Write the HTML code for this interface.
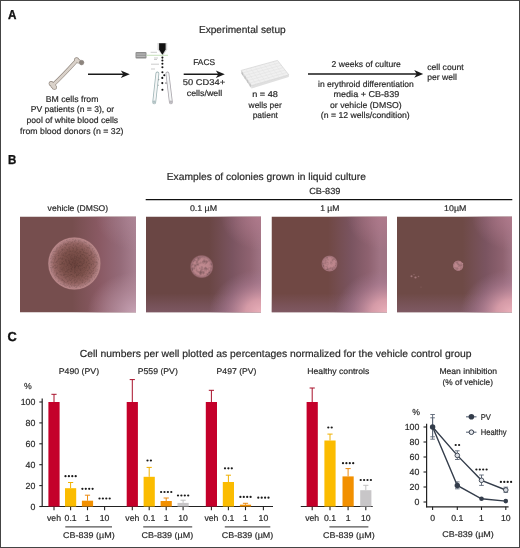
<!DOCTYPE html>
<html><head><meta charset="utf-8"><style>
html,body{margin:0;padding:0;background:#fff;}
body{width:520px;height:548px;overflow:hidden;}
svg{display:block;will-change:transform;text-rendering:geometricPrecision;font-family:"Liberation Sans",sans-serif;}
</style></head><body>
<svg width="520" height="548" viewBox="0 0 520 548">
<defs><clipPath id="clip0"><rect x="20" y="216.5" width="116" height="96"/></clipPath><clipPath id="clip1"><rect x="146" y="216.5" width="115" height="96"/></clipPath><clipPath id="clip2"><rect x="271.5" y="216.5" width="115.5" height="96"/></clipPath><clipPath id="clip3"><rect x="397" y="216.5" width="115" height="96"/></clipPath><linearGradient id="h0" x1="0" y1="0" x2="1" y2="0"><stop offset="0.45" stop-color="#8a5a64" stop-opacity="0"/><stop offset="0.69" stop-color="#8a5a64" stop-opacity="1"/><stop offset="0.86" stop-color="#946a78"/><stop offset="1" stop-color="#a88090"/></linearGradient><radialGradient id="br0" cx="1" cy="1" r="0.42"><stop offset="0" stop-color="#c8a4b6" stop-opacity="0.95"/><stop offset="0.6" stop-color="#b890a0" stop-opacity="0.5"/><stop offset="1" stop-color="#b890a0" stop-opacity="0"/></radialGradient><radialGradient id="tr0" cx="1" cy="0" r="0.35"><stop offset="0" stop-color="#b08898" stop-opacity="0.6"/><stop offset="1" stop-color="#b08898" stop-opacity="0"/></radialGradient><linearGradient id="h1" x1="0" y1="0" x2="1" y2="0"><stop offset="0.550" stop-color="#7a5460" stop-opacity="0"/><stop offset="0.750" stop-color="#7a5460" stop-opacity="1"/><stop offset="0.900" stop-color="#8e6270"/><stop offset="1.000" stop-color="#a07484"/></linearGradient><linearGradient id="h2" x1="0" y1="0" x2="1" y2="0"><stop offset="0.490" stop-color="#7a5460" stop-opacity="0"/><stop offset="0.690" stop-color="#7a5460" stop-opacity="1"/><stop offset="0.840" stop-color="#8e6270"/><stop offset="0.940" stop-color="#a07484"/></linearGradient><linearGradient id="h3" x1="0" y1="0" x2="1" y2="0"><stop offset="0.570" stop-color="#7a5460" stop-opacity="0"/><stop offset="0.770" stop-color="#7a5460" stop-opacity="1"/><stop offset="0.920" stop-color="#8e6270"/><stop offset="1.000" stop-color="#a07484"/></linearGradient><linearGradient id="b1" x1="0" y1="0" x2="0" y2="1"><stop offset="0.8" stop-color="#8a6478" stop-opacity="0"/><stop offset="1" stop-color="#8a6478" stop-opacity="0.6"/></linearGradient><radialGradient id="br1" cx="1" cy="1" r="0.45"><stop offset="0" stop-color="#eab0ba" stop-opacity="1"/><stop offset="0.3" stop-color="#dca0ac" stop-opacity="0.9"/><stop offset="0.7" stop-color="#b08098" stop-opacity="0.45"/><stop offset="1" stop-color="#a07890" stop-opacity="0"/></radialGradient><radialGradient id="tr1" cx="1" cy="0" r="0.35"><stop offset="0" stop-color="#b07a8c" stop-opacity="0.9"/><stop offset="1" stop-color="#b07a8c" stop-opacity="0"/></radialGradient><linearGradient id="bot" x1="0" y1="0" x2="0" y2="1"><stop offset="0.85" stop-color="#8a6078" stop-opacity="0"/><stop offset="1" stop-color="#8a6078" stop-opacity="0.45"/></linearGradient><radialGradient id="colv"><stop offset="0" stop-color="#6a423c"/><stop offset="0.5" stop-color="#7e524c"/><stop offset="0.78" stop-color="#966664"/><stop offset="0.92" stop-color="#b28284"/><stop offset="0.97" stop-color="#b88688"/><stop offset="1" stop-color="#a07476"/></radialGradient><radialGradient id="cols"><stop offset="0" stop-color="#c08a90"/><stop offset="0.7" stop-color="#ba848a"/><stop offset="0.88" stop-color="#a87880" stop-opacity="0.85"/><stop offset="1" stop-color="#905a60" stop-opacity="0"/></radialGradient><filter id="speck2" x="0" y="0" width="100%" height="100%"><feTurbulence type="fractalNoise" baseFrequency="0.28" numOctaves="2" seed="11"/><feColorMatrix type="matrix" values="0 0 0 0 0  0 0 0 0 0  0 0 0 0 0  0 0 0 -2.2 1.3"/><feGaussianBlur stdDeviation="0.6"/><feComposite in2="SourceGraphic" operator="in"/></filter><filter id="speck" x="0" y="0" width="100%" height="100%"><feTurbulence type="fractalNoise" baseFrequency="0.55" numOctaves="2" seed="5"/><feColorMatrix type="matrix" values="0 0 0 0 0  0 0 0 0 0  0 0 0 0 0  0 0 0 -2.5 1.45"/><feGaussianBlur stdDeviation="0.5"/><feComposite in2="SourceGraphic" operator="in"/></filter></defs>
<text x="8.10" y="18.7" font-size="13" font-weight="bold" fill="#111" stroke="#111" stroke-width="0.35" textLength="8.43" lengthAdjust="spacingAndGlyphs">A</text>
<text x="198.90" y="32.7" font-size="10.2" font-weight="normal" fill="#2a2a2a" stroke="#2a2a2a" stroke-width="0.2" textLength="86.80" lengthAdjust="spacingAndGlyphs">Experimental setup</text>
<path d="M53.8,84.2 Q63,75.5 75.5,61.8" fill="none" stroke="#8e847c" stroke-width="3.9000000000000004" stroke-linecap="round"/><circle cx="51.2" cy="83.6" r="2.5" fill="#8e847c"/><circle cx="54.4" cy="87.2" r="2.5" fill="#8e847c"/><circle cx="53.2" cy="85.6" r="2.8000000000000003" fill="#8e847c"/><circle cx="76.6" cy="59.8" r="2.5" fill="#8e847c"/><circle cx="78.4" cy="61.2" r="2.3" fill="#8e847c"/>
<path d="M53.8,84.2 Q63,75.5 75.5,61.8" fill="none" stroke="#dad2ca" stroke-width="2.7" stroke-linecap="round"/><circle cx="51.2" cy="83.6" r="1.9" fill="#dad2ca"/><circle cx="54.4" cy="87.2" r="1.9" fill="#dad2ca"/><circle cx="53.2" cy="85.6" r="2.2" fill="#dad2ca"/><circle cx="76.6" cy="59.8" r="1.9" fill="#dad2ca"/><circle cx="78.4" cy="61.2" r="1.7" fill="#dad2ca"/>
<circle cx="81.6" cy="62.6" r="2.3" fill="#8d857e" stroke="#7c746e" stroke-width="0.5"/>
<line x1="88" y1="74.2" x2="124.80000000000001" y2="74.2" stroke="#1a1a1a" stroke-width="1.5" />
<path d="M129.8,74.2 L120.80000000000001,70.4 L123.30000000000001,74.2 L120.80000000000001,78.0 Z" fill="#1a1a1a"/>
<line x1="183.7" y1="74.2" x2="219.8" y2="74.2" stroke="#1a1a1a" stroke-width="1.5" />
<path d="M224.8,74.2 L215.8,70.4 L218.3,74.2 L215.8,78.0 Z" fill="#1a1a1a"/>
<line x1="308" y1="73.9" x2="418.2" y2="73.9" stroke="#1a1a1a" stroke-width="1.5" />
<path d="M423.2,73.9 L414.2,70.10000000000001 L416.7,73.9 L414.2,77.7 Z" fill="#1a1a1a"/>
<path d="M157.5,43 L167.2,43 L167.2,49.5 L163.4,55 L162.3,55 L157.5,49.5 Z" fill="#bbb" opacity="0.6"/><path d="M159.1,43.3 L165.6,43.3 L165.6,49.4 L162.6,54.6 L162.2,54.6 L159.1,49.4 Z" fill="#111"/><rect x="135.5" y="52" width="11" height="6.5" rx="1" fill="#8f8f8f"/><rect x="136.5" y="53.6" width="9" height="0.9" fill="#c8c8c8"/><rect x="136.5" y="55.8" width="9" height="0.9" fill="#c8c8c8"/><line x1="146.5" y1="55.3" x2="168" y2="55.3" stroke="#b8d8a8" stroke-width="0.8"/><circle cx="162.4" cy="57.6" r="1.05" fill="#111"/><circle cx="162.4" cy="60.5" r="1.05" fill="#111"/><circle cx="162.4" cy="63.7" r="1.05" fill="#111"/><circle cx="162.4" cy="67.3" r="1.05" fill="#111"/><circle cx="162.4" cy="72.2" r="1.05" fill="#111"/><circle cx="164.3" cy="75.3" r="1.05" fill="#111"/><circle cx="162.3" cy="77.9" r="1.05" fill="#111"/><circle cx="162.3" cy="83.1" r="1.05" fill="#111"/><circle cx="162.4" cy="89.7" r="1.05" fill="#111"/><circle cx="158.5" cy="79.6" r="0.8" fill="#777"/><circle cx="157.8" cy="85.3" r="0.8" fill="#777"/><circle cx="166" cy="83.1" r="0.8" fill="#777"/><line x1="157.4" y1="73.5" x2="154.2" y2="102.3" stroke="#9fb4b6" stroke-width="3.8" stroke-linecap="round"/><line x1="157.4" y1="73.5" x2="154.2" y2="102.3" stroke="#f4f6f6" stroke-width="2.2" stroke-linecap="round"/><circle cx="154.2" cy="101.8" r="1.3" fill="#9fb4b6" opacity="0.8"/><line x1="167.4" y1="73.5" x2="170.9" y2="102.3" stroke="#aaa6ac" stroke-width="3.8" stroke-linecap="round"/><line x1="167.4" y1="73.5" x2="170.9" y2="102.3" stroke="#f4f6f6" stroke-width="2.2" stroke-linecap="round"/><circle cx="170.9" cy="101.8" r="1.3" fill="#aaa6ac" opacity="0.8"/><line x1="150.6" y1="52.3" x2="157" y2="52.3" stroke="#aaa" stroke-width="0.6"/><line x1="154" y1="58" x2="158" y2="58" stroke="#aaa" stroke-width="0.6"/><line x1="154" y1="59.5" x2="157" y2="59.5" stroke="#aaa" stroke-width="0.6"/><line x1="151" y1="64.2" x2="159" y2="64.2" stroke="#aaa" stroke-width="0.6"/><line x1="151" y1="69" x2="155" y2="69" stroke="#aaa" stroke-width="0.6"/>
<text x="193.20" y="64.7" font-size="8.4" font-weight="normal" fill="#2a2a2a" stroke="#2a2a2a" stroke-width="0.2" textLength="21.92" lengthAdjust="spacingAndGlyphs">FACS</text>
<text x="182.80" y="85.0" font-size="8.4" font-weight="normal" fill="#2a2a2a" stroke="#2a2a2a" stroke-width="0.2" textLength="42.31" lengthAdjust="spacingAndGlyphs">50 CD34+</text>
<text x="186.80" y="95.8" font-size="8.4" font-weight="normal" fill="#2a2a2a" stroke="#2a2a2a" stroke-width="0.2" textLength="35.31" lengthAdjust="spacingAndGlyphs">cells/well</text>
<path d="M241.2,70.4 L251.5,85.6 L251.5,88.6 L241.2,73.4 Z" fill="#cfcfcf"/>
<path d="M251.5,85.6 L288.8,74.8 L288.8,77.0 L251.5,88.6 Z" fill="#e0e0e0"/>
<path d="M241.2,70.4 L277.5,60.4 L288.8,74.8 L251.5,85.6 Z" fill="#f0f0f0" stroke="#d2d2d2" stroke-width="0.7"/>
<line x1="242.9" y1="72.9" x2="279.4" y2="62.8" stroke="#dedede" stroke-width="0.5" />
<line x1="244.6" y1="75.5" x2="281.3" y2="65.2" stroke="#dedede" stroke-width="0.5" />
<line x1="246.3" y1="78.0" x2="283.1" y2="67.6" stroke="#dedede" stroke-width="0.5" />
<line x1="248.1" y1="80.5" x2="285.0" y2="70.0" stroke="#dedede" stroke-width="0.5" />
<line x1="249.8" y1="83.1" x2="286.9" y2="72.4" stroke="#dedede" stroke-width="0.5" />
<line x1="245.7" y1="69.2" x2="256.2" y2="84.2" stroke="#e2e2e2" stroke-width="0.5" />
<line x1="250.3" y1="67.9" x2="260.8" y2="82.9" stroke="#e2e2e2" stroke-width="0.5" />
<line x1="254.8" y1="66.7" x2="265.5" y2="81.5" stroke="#e2e2e2" stroke-width="0.5" />
<line x1="259.4" y1="65.4" x2="270.1" y2="80.2" stroke="#e2e2e2" stroke-width="0.5" />
<line x1="263.9" y1="64.2" x2="274.8" y2="78.8" stroke="#e2e2e2" stroke-width="0.5" />
<line x1="268.4" y1="62.9" x2="279.5" y2="77.5" stroke="#e2e2e2" stroke-width="0.5" />
<line x1="273.0" y1="61.6" x2="284.1" y2="76.1" stroke="#e2e2e2" stroke-width="0.5" />
<line x1="242.5" y1="72.3" x2="242.5" y2="75.1" stroke="#b8b8b8" stroke-width="0.6"/>
<line x1="245.1" y1="76.1" x2="245.1" y2="78.9" stroke="#b8b8b8" stroke-width="0.6"/>
<line x1="247.6" y1="79.9" x2="247.6" y2="82.7" stroke="#b8b8b8" stroke-width="0.6"/>
<line x1="250.2" y1="83.7" x2="250.2" y2="86.5" stroke="#b8b8b8" stroke-width="0.6"/>
<text x="252.20" y="97.0" font-size="8.5" font-weight="normal" fill="#2a2a2a" stroke="#2a2a2a" stroke-width="0.2" textLength="25.68" lengthAdjust="spacingAndGlyphs">n = 48</text>
<text x="248.58" y="107.9" font-size="8.5" font-weight="normal" fill="#2a2a2a" stroke="#2a2a2a" stroke-width="0.2" textLength="33.18" lengthAdjust="spacingAndGlyphs">wells per</text>
<text x="252.70" y="118.4" font-size="8.5" font-weight="normal" fill="#2a2a2a" stroke="#2a2a2a" stroke-width="0.2" textLength="25.22" lengthAdjust="spacingAndGlyphs">patient</text>
<text x="45.70" y="101.5" font-size="8.5" font-weight="normal" fill="#2a2a2a" stroke="#2a2a2a" stroke-width="0.2" textLength="52.76" lengthAdjust="spacingAndGlyphs">BM cells from</text>
<text x="30.70" y="112.2" font-size="8.5" font-weight="normal" fill="#2a2a2a" stroke="#2a2a2a" stroke-width="0.2" textLength="83.54" lengthAdjust="spacingAndGlyphs">PV patients (n = 3), or</text>
<text x="26.50" y="123.0" font-size="8.5" font-weight="normal" fill="#2a2a2a" stroke="#2a2a2a" stroke-width="0.2" textLength="91.67" lengthAdjust="spacingAndGlyphs">pool of white blood cells</text>
<text x="20.10" y="133.7" font-size="8.5" font-weight="normal" fill="#2a2a2a" stroke="#2a2a2a" stroke-width="0.2" textLength="103.41" lengthAdjust="spacingAndGlyphs">from blood donors (n = 32)</text>
<text x="331.60" y="66.8" font-size="8.5" font-weight="normal" fill="#2a2a2a" stroke="#2a2a2a" stroke-width="0.2" textLength="69.29" lengthAdjust="spacingAndGlyphs">2 weeks of culture</text>
<text x="318.00" y="86.6" font-size="8.5" font-weight="normal" fill="#2a2a2a" stroke="#2a2a2a" stroke-width="0.2" textLength="95.80" lengthAdjust="spacingAndGlyphs">in erythroid differentiation</text>
<text x="333.50" y="97.1" font-size="8.5" font-weight="normal" fill="#2a2a2a" stroke="#2a2a2a" stroke-width="0.2" textLength="65.73" lengthAdjust="spacingAndGlyphs">media + CB-839</text>
<text x="330.00" y="107.6" font-size="8.5" font-weight="normal" fill="#2a2a2a" stroke="#2a2a2a" stroke-width="0.2" textLength="71.63" lengthAdjust="spacingAndGlyphs">or vehicle (DMSO)</text>
<text x="320.80" y="118.3" font-size="8.5" font-weight="normal" fill="#2a2a2a" stroke="#2a2a2a" stroke-width="0.2" textLength="88.94" lengthAdjust="spacingAndGlyphs">(n = 12 wells/condition)</text>
<text x="427.20" y="69.5" font-size="8.5" font-weight="normal" fill="#2a2a2a" stroke="#2a2a2a" stroke-width="0.2" textLength="36.55" lengthAdjust="spacingAndGlyphs">cell count</text>
<text x="427.20" y="80.0" font-size="8.5" font-weight="normal" fill="#2a2a2a" stroke="#2a2a2a" stroke-width="0.2" textLength="29.66" lengthAdjust="spacingAndGlyphs">per well</text>
<text x="8.10" y="164.4" font-size="13" font-weight="bold" fill="#111" stroke="#111" stroke-width="0.35" textLength="8.33" lengthAdjust="spacingAndGlyphs">B</text>
<text x="166.70" y="180.4" font-size="10.2" font-weight="normal" fill="#2a2a2a" stroke="#2a2a2a" stroke-width="0.2" textLength="199.28" lengthAdjust="spacingAndGlyphs">Examples of colonies grown in liquid culture</text>
<text x="309.20" y="193.8" font-size="8.9" font-weight="normal" fill="#2a2a2a" stroke="#2a2a2a" stroke-width="0.2" textLength="31.20" lengthAdjust="spacingAndGlyphs">CB-839</text>
<line x1="145.7" y1="199.6" x2="512.3" y2="199.6" stroke="#111" stroke-width="1.2" />
<text x="47.60" y="210.8" font-size="8.3" font-weight="normal" fill="#2a2a2a" stroke="#2a2a2a" stroke-width="0.2" textLength="60.57" lengthAdjust="spacingAndGlyphs">vehicle (DMSO)</text>
<text x="189.90" y="210.9" font-size="8.3" font-weight="normal" fill="#2a2a2a" stroke="#2a2a2a" stroke-width="0.2" textLength="27.17" lengthAdjust="spacingAndGlyphs">0.1 µM</text>
<text x="320.20" y="211.1" font-size="8.3" font-weight="normal" fill="#2a2a2a" stroke="#2a2a2a" stroke-width="0.2" textLength="19.23" lengthAdjust="spacingAndGlyphs">1 µM</text>
<text x="444.10" y="210.9" font-size="8.3" font-weight="normal" fill="#2a2a2a" stroke="#2a2a2a" stroke-width="0.2" textLength="22.21" lengthAdjust="spacingAndGlyphs">10µM</text>
<g clip-path="url(#clip0)">
<rect x="20" y="216.5" width="116" height="96" fill="#764e4e"/>
<rect x="20" y="216.5" width="116" height="96" fill="url(#h0)"/>
<rect x="20" y="216.5" width="116" height="96" fill="url(#br0)"/>
<rect x="20" y="216.5" width="116" height="96" fill="url(#tr0)"/>
<circle cx="74.4" cy="263.5" r="26.3" fill="url(#colv)"/>
<circle cx="74.4" cy="263.5" r="24.8" fill="#4a2224" opacity="0.15" filter="url(#speck)"/>
</g>
<g clip-path="url(#clip1)">
<rect x="146" y="216.5" width="115" height="96" fill="#6a4644"/>
<rect x="146" y="216.5" width="115" height="96" fill="url(#h1)"/>
<rect x="146" y="216.5" width="115" height="96" fill="url(#b1)"/>
<rect x="146" y="216.5" width="115" height="96" fill="url(#br1)"/>
<rect x="146" y="216.5" width="115" height="96" fill="url(#tr1)"/>
<circle cx="201.7" cy="266.6" r="12" fill="url(#cols)"/>
<circle cx="201.7" cy="266.6" r="10.5" fill="#8a5058" opacity="0.3" filter="url(#speck2)"/>
</g>
<g clip-path="url(#clip2)">
<rect x="271.5" y="216.5" width="115.5" height="96" fill="#704844"/>
<rect x="271.5" y="216.5" width="115.5" height="96" fill="url(#h2)"/>
<rect x="271.5" y="216.5" width="115.5" height="96" fill="url(#b1)"/>
<rect x="271.5" y="216.5" width="115.5" height="96" fill="url(#br1)"/>
<rect x="271.5" y="216.5" width="115.5" height="96" fill="url(#tr1)"/>
<circle cx="329.5" cy="263.6" r="8.5" fill="url(#cols)"/>
<circle cx="329.5" cy="263.6" r="7.0" fill="#8a5058" opacity="0.3" filter="url(#speck2)"/>
</g>
<g clip-path="url(#clip3)">
<rect x="397" y="216.5" width="115" height="96" fill="#6e4a46"/>
<rect x="397" y="216.5" width="115" height="96" fill="url(#h3)"/>
<rect x="397" y="216.5" width="115" height="96" fill="url(#b1)"/>
<rect x="397" y="216.5" width="115" height="96" fill="url(#br1)"/>
<rect x="397" y="216.5" width="115" height="96" fill="url(#tr1)"/>
<circle cx="458.2" cy="265.7" r="5.6" fill="url(#cols)"/>
<circle cx="458.2" cy="265.7" r="4.1" fill="#8a5058" opacity="0.3" filter="url(#speck2)"/>
</g>
<circle cx="411.5" cy="276.2" r="1.0" fill="#c89aa0" opacity="0.55"/>
<circle cx="415.5" cy="277.5" r="1.1" fill="#c89aa0" opacity="0.6"/>
<circle cx="418.5" cy="276.5" r="0.8" fill="#c89aa0" opacity="0.4"/>
<circle cx="414" cy="274.5" r="0.7" fill="#c89aa0" opacity="0.35"/>
<circle cx="462.5" cy="263.5" r="0.8" fill="#c89aa0" opacity="0.5"/>
<circle cx="455" cy="268.5" r="0.7" fill="#c89aa0" opacity="0.45"/>
<circle cx="336" cy="262" r="0.8" fill="#c89aa0" opacity="0.35"/>
<circle cx="421" cy="287" r="0.6" fill="#c89aa0" opacity="0.3"/>
<text x="7.50" y="341.2" font-size="13" font-weight="bold" fill="#111" stroke="#111" stroke-width="0.35" textLength="9.23" lengthAdjust="spacingAndGlyphs">C</text>
<text x="79.80" y="357.0" font-size="10.2" font-weight="normal" fill="#2a2a2a" stroke="#2a2a2a" stroke-width="0.2" textLength="391.65" lengthAdjust="spacingAndGlyphs">Cell numbers per well plotted as percentages normalized for the vehicle control group</text>
<text x="58.70" y="374.0" font-size="8.3" font-weight="normal" fill="#2a2a2a" stroke="#2a2a2a" stroke-width="0.2" textLength="40.43" lengthAdjust="spacingAndGlyphs">P490 (PV)</text>
<text x="137.70" y="374.0" font-size="8.3" font-weight="normal" fill="#2a2a2a" stroke="#2a2a2a" stroke-width="0.2" textLength="40.13" lengthAdjust="spacingAndGlyphs">P559 (PV)</text>
<text x="216.60" y="374.0" font-size="8.3" font-weight="normal" fill="#2a2a2a" stroke="#2a2a2a" stroke-width="0.2" textLength="39.83" lengthAdjust="spacingAndGlyphs">P497 (PV)</text>
<text x="307.30" y="374.0" font-size="8.3" font-weight="normal" fill="#2a2a2a" stroke="#2a2a2a" stroke-width="0.2" textLength="62.00" lengthAdjust="spacingAndGlyphs">Healthy controls</text>
<text x="439.50" y="373.9" font-size="8.3" font-weight="normal" fill="#2a2a2a" stroke="#2a2a2a" stroke-width="0.2" textLength="57.47" lengthAdjust="spacingAndGlyphs">Mean inhibition</text>
<text x="442.50" y="384.5" font-size="8.3" font-weight="normal" fill="#2a2a2a" stroke="#2a2a2a" stroke-width="0.2" textLength="50.48" lengthAdjust="spacingAndGlyphs">(% of vehicle)</text>
<text x="24.0" y="389.4" font-size="8.7" text-anchor="start" font-weight="normal" fill="#2a2a2a" stroke="#2a2a2a" stroke-width="0.2" >%</text>
<line x1="42.2" y1="398.5" x2="42.2" y2="507.1" stroke="#222" stroke-width="1.2" />
<line x1="39.3" y1="402.0" x2="42.2" y2="402.0" stroke="#222" stroke-width="1.1" />
<text x="35.4" y="405.15" font-size="8.8" text-anchor="end" font-weight="normal" fill="#2a2a2a" stroke="#2a2a2a" stroke-width="0.2" >100</text>
<line x1="39.3" y1="422.9" x2="42.2" y2="422.9" stroke="#222" stroke-width="1.1" />
<text x="35.4" y="426.04999999999995" font-size="8.8" text-anchor="end" font-weight="normal" fill="#2a2a2a" stroke="#2a2a2a" stroke-width="0.2" >80</text>
<line x1="39.3" y1="443.8" x2="42.2" y2="443.8" stroke="#222" stroke-width="1.1" />
<text x="35.4" y="446.95" font-size="8.8" text-anchor="end" font-weight="normal" fill="#2a2a2a" stroke="#2a2a2a" stroke-width="0.2" >60</text>
<line x1="39.3" y1="464.7" x2="42.2" y2="464.7" stroke="#222" stroke-width="1.1" />
<text x="35.4" y="467.84999999999997" font-size="8.8" text-anchor="end" font-weight="normal" fill="#2a2a2a" stroke="#2a2a2a" stroke-width="0.2" >40</text>
<line x1="39.3" y1="485.6" x2="42.2" y2="485.6" stroke="#222" stroke-width="1.1" />
<text x="35.4" y="488.75" font-size="8.8" text-anchor="end" font-weight="normal" fill="#2a2a2a" stroke="#2a2a2a" stroke-width="0.2" >20</text>
<line x1="39.3" y1="506.5" x2="42.2" y2="506.5" stroke="#222" stroke-width="1.1" />
<text x="35.4" y="509.65" font-size="8.8" text-anchor="end" font-weight="normal" fill="#2a2a2a" stroke="#2a2a2a" stroke-width="0.2" >0</text>
<line x1="41.6" y1="506.5" x2="273.0" y2="506.5" stroke="#222" stroke-width="1.2" />
<line x1="300.8" y1="506.5" x2="372.7" y2="506.5" stroke="#222" stroke-width="1.2" />
<line x1="54.0" y1="506.5" x2="54.0" y2="510.2" stroke="#222" stroke-width="1.1" />
<text x="54.0" y="521.1" font-size="8.7" text-anchor="middle" font-weight="normal" fill="#2a2a2a" stroke="#2a2a2a" stroke-width="0.2" >veh</text>
<line x1="54.0" y1="394.3" x2="54.0" y2="402.0" stroke="#a8102a" stroke-width="1.0" />
<line x1="51.4" y1="394.3" x2="56.6" y2="394.3" stroke="#a8102a" stroke-width="1.0" />
<rect x="48.4" y="402.0" width="11.2" height="104.5" fill="#c4002a"/>
<line x1="70.6" y1="506.5" x2="70.6" y2="510.2" stroke="#222" stroke-width="1.1" />
<text x="70.6" y="521.1" font-size="8.7" text-anchor="middle" font-weight="normal" fill="#2a2a2a" stroke="#2a2a2a" stroke-width="0.2" >0.1</text>
<line x1="70.6" y1="482.5" x2="70.6" y2="488.2" stroke="#f0b000" stroke-width="1.0" />
<line x1="68.0" y1="482.5" x2="73.19999999999999" y2="482.5" stroke="#f0b000" stroke-width="1.0" />
<rect x="65.0" y="488.2" width="11.2" height="18.30000000000001" fill="#fbbc00"/>
<line x1="87.5" y1="506.5" x2="87.5" y2="510.2" stroke="#222" stroke-width="1.1" />
<text x="87.5" y="521.1" font-size="8.7" text-anchor="middle" font-weight="normal" fill="#2a2a2a" stroke="#2a2a2a" stroke-width="0.2" >1</text>
<line x1="87.5" y1="495.2" x2="87.5" y2="500.7" stroke="#ec8a10" stroke-width="1.0" />
<line x1="84.9" y1="495.2" x2="90.1" y2="495.2" stroke="#ec8a10" stroke-width="1.0" />
<rect x="81.9" y="500.7" width="11.2" height="5.800000000000011" fill="#f29000"/>
<line x1="104.6" y1="506.5" x2="104.6" y2="510.2" stroke="#222" stroke-width="1.1" />
<text x="104.6" y="521.1" font-size="8.7" text-anchor="middle" font-weight="normal" fill="#2a2a2a" stroke="#2a2a2a" stroke-width="0.2" >10</text>
<circle cx="65.50" cy="476.2" r="1.12" fill="#1a1a1a"/>
<circle cx="68.90" cy="476.2" r="1.12" fill="#1a1a1a"/>
<circle cx="72.30" cy="476.2" r="1.12" fill="#1a1a1a"/>
<circle cx="75.70" cy="476.2" r="1.12" fill="#1a1a1a"/>
<circle cx="82.40" cy="488.8" r="1.12" fill="#1a1a1a"/>
<circle cx="85.80" cy="488.8" r="1.12" fill="#1a1a1a"/>
<circle cx="89.20" cy="488.8" r="1.12" fill="#1a1a1a"/>
<circle cx="92.60" cy="488.8" r="1.12" fill="#1a1a1a"/>
<circle cx="99.50" cy="498.5" r="1.12" fill="#1a1a1a"/>
<circle cx="102.90" cy="498.5" r="1.12" fill="#1a1a1a"/>
<circle cx="106.30" cy="498.5" r="1.12" fill="#1a1a1a"/>
<circle cx="109.70" cy="498.5" r="1.12" fill="#1a1a1a"/>
<line x1="65.3" y1="526.8" x2="112.0" y2="526.8" stroke="#555" stroke-width="1.35" />
<text x="63.10" y="537.8" font-size="8.3" font-weight="normal" fill="#2a2a2a" stroke="#2a2a2a" stroke-width="0.2" textLength="51.53" lengthAdjust="spacingAndGlyphs">CB-839 (µM)</text>
<line x1="132.3" y1="506.5" x2="132.3" y2="510.2" stroke="#222" stroke-width="1.1" />
<text x="132.3" y="521.1" font-size="8.7" text-anchor="middle" font-weight="normal" fill="#2a2a2a" stroke="#2a2a2a" stroke-width="0.2" >veh</text>
<line x1="132.3" y1="379.6" x2="132.3" y2="402.0" stroke="#a8102a" stroke-width="1.0" />
<line x1="129.70000000000002" y1="379.6" x2="134.9" y2="379.6" stroke="#a8102a" stroke-width="1.0" />
<rect x="126.70000000000002" y="402.0" width="11.2" height="104.5" fill="#c4002a"/>
<line x1="149.2" y1="506.5" x2="149.2" y2="510.2" stroke="#222" stroke-width="1.1" />
<text x="149.2" y="521.1" font-size="8.7" text-anchor="middle" font-weight="normal" fill="#2a2a2a" stroke="#2a2a2a" stroke-width="0.2" >0.1</text>
<line x1="149.2" y1="467.4" x2="149.2" y2="476.8" stroke="#f0b000" stroke-width="1.0" />
<line x1="146.6" y1="467.4" x2="151.79999999999998" y2="467.4" stroke="#f0b000" stroke-width="1.0" />
<rect x="143.6" y="476.8" width="11.2" height="29.69999999999999" fill="#fbbc00"/>
<line x1="166.2" y1="506.5" x2="166.2" y2="510.2" stroke="#222" stroke-width="1.1" />
<text x="166.2" y="521.1" font-size="8.7" text-anchor="middle" font-weight="normal" fill="#2a2a2a" stroke="#2a2a2a" stroke-width="0.2" >1</text>
<line x1="166.2" y1="498.0" x2="166.2" y2="501.0" stroke="#ec8a10" stroke-width="1.0" />
<line x1="163.6" y1="498.0" x2="168.79999999999998" y2="498.0" stroke="#ec8a10" stroke-width="1.0" />
<rect x="160.6" y="501.0" width="11.2" height="5.5" fill="#f29000"/>
<line x1="183.1" y1="506.5" x2="183.1" y2="510.2" stroke="#222" stroke-width="1.1" />
<text x="183.1" y="521.1" font-size="8.7" text-anchor="middle" font-weight="normal" fill="#2a2a2a" stroke="#2a2a2a" stroke-width="0.2" >10</text>
<line x1="183.1" y1="500.2" x2="183.1" y2="502.9" stroke="#c0c0c0" stroke-width="1.0" />
<line x1="180.5" y1="500.2" x2="185.7" y2="500.2" stroke="#c0c0c0" stroke-width="1.0" />
<rect x="177.5" y="502.9" width="11.2" height="3.6000000000000227" fill="#c8c6c8"/>
<circle cx="147.50" cy="460.5" r="1.12" fill="#1a1a1a"/>
<circle cx="150.90" cy="460.5" r="1.12" fill="#1a1a1a"/>
<circle cx="161.10" cy="492.0" r="1.12" fill="#1a1a1a"/>
<circle cx="164.50" cy="492.0" r="1.12" fill="#1a1a1a"/>
<circle cx="167.90" cy="492.0" r="1.12" fill="#1a1a1a"/>
<circle cx="171.30" cy="492.0" r="1.12" fill="#1a1a1a"/>
<circle cx="178.00" cy="495.5" r="1.12" fill="#1a1a1a"/>
<circle cx="181.40" cy="495.5" r="1.12" fill="#1a1a1a"/>
<circle cx="184.80" cy="495.5" r="1.12" fill="#1a1a1a"/>
<circle cx="188.20" cy="495.5" r="1.12" fill="#1a1a1a"/>
<line x1="143.2" y1="526.8" x2="192.2" y2="526.8" stroke="#555" stroke-width="1.35" />
<text x="141.50" y="537.8" font-size="8.3" font-weight="normal" fill="#2a2a2a" stroke="#2a2a2a" stroke-width="0.2" textLength="51.63" lengthAdjust="spacingAndGlyphs">CB-839 (µM)</text>
<line x1="211.4" y1="506.5" x2="211.4" y2="510.2" stroke="#222" stroke-width="1.1" />
<text x="211.4" y="521.1" font-size="8.7" text-anchor="middle" font-weight="normal" fill="#2a2a2a" stroke="#2a2a2a" stroke-width="0.2" >veh</text>
<line x1="211.4" y1="390.3" x2="211.4" y2="402.0" stroke="#a8102a" stroke-width="1.0" />
<line x1="208.8" y1="390.3" x2="214.0" y2="390.3" stroke="#a8102a" stroke-width="1.0" />
<rect x="205.8" y="402.0" width="11.2" height="104.5" fill="#c4002a"/>
<line x1="228.4" y1="506.5" x2="228.4" y2="510.2" stroke="#222" stroke-width="1.1" />
<text x="228.4" y="521.1" font-size="8.7" text-anchor="middle" font-weight="normal" fill="#2a2a2a" stroke="#2a2a2a" stroke-width="0.2" >0.1</text>
<line x1="228.4" y1="475.2" x2="228.4" y2="482.0" stroke="#f0b000" stroke-width="1.0" />
<line x1="225.8" y1="475.2" x2="231.0" y2="475.2" stroke="#f0b000" stroke-width="1.0" />
<rect x="222.8" y="482.0" width="11.2" height="24.5" fill="#fbbc00"/>
<line x1="245.5" y1="506.5" x2="245.5" y2="510.2" stroke="#222" stroke-width="1.1" />
<text x="245.5" y="521.1" font-size="8.7" text-anchor="middle" font-weight="normal" fill="#2a2a2a" stroke="#2a2a2a" stroke-width="0.2" >1</text>
<line x1="245.5" y1="503.3" x2="245.5" y2="504.7" stroke="#ec8a10" stroke-width="1.0" />
<line x1="242.9" y1="503.3" x2="248.1" y2="503.3" stroke="#ec8a10" stroke-width="1.0" />
<rect x="239.9" y="504.7" width="11.2" height="1.8000000000000114" fill="#f29000"/>
<line x1="263.4" y1="506.5" x2="263.4" y2="510.2" stroke="#222" stroke-width="1.1" />
<text x="263.4" y="521.1" font-size="8.7" text-anchor="middle" font-weight="normal" fill="#2a2a2a" stroke="#2a2a2a" stroke-width="0.2" >10</text>
<circle cx="225.00" cy="468.3" r="1.12" fill="#1a1a1a"/>
<circle cx="228.40" cy="468.3" r="1.12" fill="#1a1a1a"/>
<circle cx="231.80" cy="468.3" r="1.12" fill="#1a1a1a"/>
<circle cx="240.40" cy="496.9" r="1.12" fill="#1a1a1a"/>
<circle cx="243.80" cy="496.9" r="1.12" fill="#1a1a1a"/>
<circle cx="247.20" cy="496.9" r="1.12" fill="#1a1a1a"/>
<circle cx="250.60" cy="496.9" r="1.12" fill="#1a1a1a"/>
<circle cx="258.30" cy="497.7" r="1.12" fill="#1a1a1a"/>
<circle cx="261.70" cy="497.7" r="1.12" fill="#1a1a1a"/>
<circle cx="265.10" cy="497.7" r="1.12" fill="#1a1a1a"/>
<circle cx="268.50" cy="497.7" r="1.12" fill="#1a1a1a"/>
<line x1="224.8" y1="526.8" x2="270.3" y2="526.8" stroke="#555" stroke-width="1.35" />
<text x="221.80" y="537.8" font-size="8.3" font-weight="normal" fill="#2a2a2a" stroke="#2a2a2a" stroke-width="0.2" textLength="51.43" lengthAdjust="spacingAndGlyphs">CB-839 (µM)</text>
<line x1="312.2" y1="506.5" x2="312.2" y2="510.2" stroke="#222" stroke-width="1.1" />
<text x="312.2" y="521.1" font-size="8.7" text-anchor="middle" font-weight="normal" fill="#2a2a2a" stroke="#2a2a2a" stroke-width="0.2" >veh</text>
<line x1="312.2" y1="388.0" x2="312.2" y2="402.0" stroke="#a8102a" stroke-width="1.0" />
<line x1="309.59999999999997" y1="388.0" x2="314.8" y2="388.0" stroke="#a8102a" stroke-width="1.0" />
<rect x="306.59999999999997" y="402.0" width="11.2" height="104.5" fill="#c4002a"/>
<line x1="330.0" y1="506.5" x2="330.0" y2="510.2" stroke="#222" stroke-width="1.1" />
<text x="330.0" y="521.1" font-size="8.7" text-anchor="middle" font-weight="normal" fill="#2a2a2a" stroke="#2a2a2a" stroke-width="0.2" >0.1</text>
<line x1="330.0" y1="434.1" x2="330.0" y2="440.5" stroke="#f0b000" stroke-width="1.0" />
<line x1="327.4" y1="434.1" x2="332.6" y2="434.1" stroke="#f0b000" stroke-width="1.0" />
<rect x="324.4" y="440.5" width="11.2" height="66.0" fill="#fbbc00"/>
<line x1="348.1" y1="506.5" x2="348.1" y2="510.2" stroke="#222" stroke-width="1.1" />
<text x="348.1" y="521.1" font-size="8.7" text-anchor="middle" font-weight="normal" fill="#2a2a2a" stroke="#2a2a2a" stroke-width="0.2" >1</text>
<line x1="348.1" y1="468.6" x2="348.1" y2="476.4" stroke="#ec8a10" stroke-width="1.0" />
<line x1="345.5" y1="468.6" x2="350.70000000000005" y2="468.6" stroke="#ec8a10" stroke-width="1.0" />
<rect x="342.5" y="476.4" width="11.2" height="30.100000000000023" fill="#f29000"/>
<line x1="365.8" y1="506.5" x2="365.8" y2="510.2" stroke="#222" stroke-width="1.1" />
<text x="365.8" y="521.1" font-size="8.7" text-anchor="middle" font-weight="normal" fill="#2a2a2a" stroke="#2a2a2a" stroke-width="0.2" >10</text>
<line x1="365.8" y1="485.3" x2="365.8" y2="490.2" stroke="#c0c0c0" stroke-width="1.0" />
<line x1="363.2" y1="485.3" x2="368.40000000000003" y2="485.3" stroke="#c0c0c0" stroke-width="1.0" />
<rect x="360.2" y="490.2" width="11.2" height="16.30000000000001" fill="#c8c6c8"/>
<circle cx="328.30" cy="427.5" r="1.12" fill="#1a1a1a"/>
<circle cx="331.70" cy="427.5" r="1.12" fill="#1a1a1a"/>
<circle cx="343.00" cy="463.2" r="1.12" fill="#1a1a1a"/>
<circle cx="346.40" cy="463.2" r="1.12" fill="#1a1a1a"/>
<circle cx="349.80" cy="463.2" r="1.12" fill="#1a1a1a"/>
<circle cx="353.20" cy="463.2" r="1.12" fill="#1a1a1a"/>
<circle cx="360.70" cy="480.0" r="1.12" fill="#1a1a1a"/>
<circle cx="364.10" cy="480.0" r="1.12" fill="#1a1a1a"/>
<circle cx="367.50" cy="480.0" r="1.12" fill="#1a1a1a"/>
<circle cx="370.90" cy="480.0" r="1.12" fill="#1a1a1a"/>
<line x1="329.4" y1="526.8" x2="368.4" y2="526.8" stroke="#555" stroke-width="1.35" />
<text x="323.10" y="537.8" font-size="8.3" font-weight="normal" fill="#2a2a2a" stroke="#2a2a2a" stroke-width="0.2" textLength="51.63" lengthAdjust="spacingAndGlyphs">CB-839 (µM)</text>
<text x="416.2" y="414.6" font-size="8.7" text-anchor="middle" font-weight="normal" fill="#2a2a2a" stroke="#2a2a2a" stroke-width="0.2" >%</text>
<line x1="426.6" y1="423.8" x2="426.6" y2="507.3" stroke="#222" stroke-width="1.2" />
<line x1="423.5" y1="427.0" x2="426.6" y2="427.0" stroke="#222" stroke-width="1.1" />
<text x="419.4" y="430.15" font-size="8.8" text-anchor="end" font-weight="normal" fill="#2a2a2a" stroke="#2a2a2a" stroke-width="0.2" >100</text>
<line x1="423.5" y1="442.0" x2="426.6" y2="442.0" stroke="#222" stroke-width="1.1" />
<text x="419.4" y="445.15" font-size="8.8" text-anchor="end" font-weight="normal" fill="#2a2a2a" stroke="#2a2a2a" stroke-width="0.2" >80</text>
<line x1="423.5" y1="457.0" x2="426.6" y2="457.0" stroke="#222" stroke-width="1.1" />
<text x="419.4" y="460.15" font-size="8.8" text-anchor="end" font-weight="normal" fill="#2a2a2a" stroke="#2a2a2a" stroke-width="0.2" >60</text>
<line x1="423.5" y1="472.0" x2="426.6" y2="472.0" stroke="#222" stroke-width="1.1" />
<text x="419.4" y="475.15" font-size="8.8" text-anchor="end" font-weight="normal" fill="#2a2a2a" stroke="#2a2a2a" stroke-width="0.2" >40</text>
<line x1="423.5" y1="487.0" x2="426.6" y2="487.0" stroke="#222" stroke-width="1.1" />
<text x="419.4" y="490.15" font-size="8.8" text-anchor="end" font-weight="normal" fill="#2a2a2a" stroke="#2a2a2a" stroke-width="0.2" >20</text>
<line x1="423.5" y1="502.0" x2="426.6" y2="502.0" stroke="#222" stroke-width="1.1" />
<text x="419.4" y="505.15" font-size="8.8" text-anchor="end" font-weight="normal" fill="#2a2a2a" stroke="#2a2a2a" stroke-width="0.2" >0</text>
<line x1="426.0" y1="506.8" x2="508.6" y2="506.8" stroke="#222" stroke-width="1.2" />
<line x1="432.6" y1="506.8" x2="432.6" y2="510.0" stroke="#222" stroke-width="1.1" />
<text x="432.6" y="521.2" font-size="8.7" text-anchor="middle" font-weight="normal" fill="#2a2a2a" stroke="#2a2a2a" stroke-width="0.2" >0</text>
<line x1="457.3" y1="506.8" x2="457.3" y2="510.0" stroke="#222" stroke-width="1.1" />
<text x="457.3" y="521.2" font-size="8.7" text-anchor="middle" font-weight="normal" fill="#2a2a2a" stroke="#2a2a2a" stroke-width="0.2" >0.1</text>
<line x1="481.5" y1="506.8" x2="481.5" y2="510.0" stroke="#222" stroke-width="1.1" />
<text x="481.5" y="521.2" font-size="8.7" text-anchor="middle" font-weight="normal" fill="#2a2a2a" stroke="#2a2a2a" stroke-width="0.2" >1</text>
<line x1="505.8" y1="506.8" x2="505.8" y2="510.0" stroke="#222" stroke-width="1.1" />
<text x="505.8" y="521.2" font-size="8.7" text-anchor="middle" font-weight="normal" fill="#2a2a2a" stroke="#2a2a2a" stroke-width="0.2" >10</text>
<text x="442.30" y="537.4" font-size="8.3" font-weight="normal" fill="#2a2a2a" stroke="#2a2a2a" stroke-width="0.2" textLength="51.53" lengthAdjust="spacingAndGlyphs">CB-839 (µM)</text>
<line x1="432.6" y1="414.5" x2="432.6" y2="439.2" stroke="#5a6474" stroke-width="0.9" />
<line x1="430.3" y1="414.5" x2="434.90000000000003" y2="414.5" stroke="#5a6474" stroke-width="0.9" />
<line x1="430.3" y1="439.2" x2="434.90000000000003" y2="439.2" stroke="#5a6474" stroke-width="0.9" />
<line x1="432.6" y1="417.8" x2="432.6" y2="436.8" stroke="#5a6474" stroke-width="0.9" />
<line x1="430.3" y1="417.8" x2="434.90000000000003" y2="417.8" stroke="#5a6474" stroke-width="0.9" />
<line x1="430.3" y1="436.8" x2="434.90000000000003" y2="436.8" stroke="#5a6474" stroke-width="0.9" />
<line x1="457.3" y1="450.8" x2="457.3" y2="459.5" stroke="#5a6474" stroke-width="0.9" />
<line x1="455.0" y1="450.8" x2="459.6" y2="450.8" stroke="#5a6474" stroke-width="0.9" />
<line x1="455.0" y1="459.5" x2="459.6" y2="459.5" stroke="#5a6474" stroke-width="0.9" />
<line x1="457.3" y1="481.9" x2="457.3" y2="488.8" stroke="#5a6474" stroke-width="0.9" />
<line x1="455.0" y1="481.9" x2="459.6" y2="481.9" stroke="#5a6474" stroke-width="0.9" />
<line x1="455.0" y1="488.8" x2="459.6" y2="488.8" stroke="#5a6474" stroke-width="0.9" />
<line x1="481.5" y1="475.0" x2="481.5" y2="485.4" stroke="#5a6474" stroke-width="0.9" />
<line x1="479.2" y1="475.0" x2="483.8" y2="475.0" stroke="#5a6474" stroke-width="0.9" />
<line x1="479.2" y1="485.4" x2="483.8" y2="485.4" stroke="#5a6474" stroke-width="0.9" />
<line x1="505.8" y1="487.2" x2="505.8" y2="492.3" stroke="#5a6474" stroke-width="0.9" />
<line x1="503.5" y1="487.2" x2="508.1" y2="487.2" stroke="#5a6474" stroke-width="0.9" />
<line x1="503.5" y1="492.3" x2="508.1" y2="492.3" stroke="#5a6474" stroke-width="0.9" />
<polyline points="432.6,427.0 457.3,485.4 481.5,498.8 505.8,501.1" fill="none" stroke="#343d4b" stroke-width="1.4"/>
<polyline points="432.6,427.0 457.3,455.4 481.5,480.3 505.8,490.0" fill="none" stroke="#343d4b" stroke-width="1.4"/>
<circle cx="432.6" cy="427.0" r="2.7" fill="#343d4b"/>
<circle cx="457.3" cy="485.4" r="2.7" fill="#343d4b"/>
<circle cx="481.5" cy="498.8" r="2.3" fill="#343d4b"/>
<circle cx="505.8" cy="501.1" r="2.3" fill="#343d4b"/>
<circle cx="457.3" cy="455.4" r="2.3" fill="#dde0e6" stroke="#343d4b" stroke-width="0.9"/>
<circle cx="481.5" cy="480.3" r="2.3" fill="#dde0e6" stroke="#343d4b" stroke-width="0.9"/>
<circle cx="505.8" cy="490.0" r="2.3" fill="#dde0e6" stroke="#343d4b" stroke-width="0.9"/>
<circle cx="455.70" cy="445" r="1.12" fill="#1a1a1a"/>
<circle cx="459.10" cy="445" r="1.12" fill="#1a1a1a"/>
<circle cx="476.40" cy="469.5" r="1.12" fill="#1a1a1a"/>
<circle cx="479.80" cy="469.5" r="1.12" fill="#1a1a1a"/>
<circle cx="483.20" cy="469.5" r="1.12" fill="#1a1a1a"/>
<circle cx="486.60" cy="469.5" r="1.12" fill="#1a1a1a"/>
<circle cx="500.90" cy="481.9" r="1.12" fill="#1a1a1a"/>
<circle cx="504.30" cy="481.9" r="1.12" fill="#1a1a1a"/>
<circle cx="507.70" cy="481.9" r="1.12" fill="#1a1a1a"/>
<circle cx="511.10" cy="481.9" r="1.12" fill="#1a1a1a"/>
<line x1="466" y1="416.8" x2="476.5" y2="416.8" stroke="#6a7484" stroke-width="1.2" />
<circle cx="471.4" cy="416.8" r="2.8" fill="#343d4b"/>
<text x="480.70" y="419.8" font-size="8.3" font-weight="normal" fill="#2a2a2a" stroke="#2a2a2a" stroke-width="0.2" textLength="10.15" lengthAdjust="spacingAndGlyphs">PV</text>
<line x1="466" y1="432.2" x2="476.5" y2="432.2" stroke="#6a7484" stroke-width="1.2" />
<circle cx="471.4" cy="432.2" r="2.3" fill="#e6e8ec" stroke="#343d4b" stroke-width="1"/>
<text x="480.70" y="434.7" font-size="8.3" font-weight="normal" fill="#2a2a2a" stroke="#2a2a2a" stroke-width="0.2" textLength="25.80" lengthAdjust="spacingAndGlyphs">Healthy</text>
<rect x="0.5" y="0.5" width="519" height="547" fill="none" stroke="#444" stroke-width="1"/>
</svg>
</body></html>
